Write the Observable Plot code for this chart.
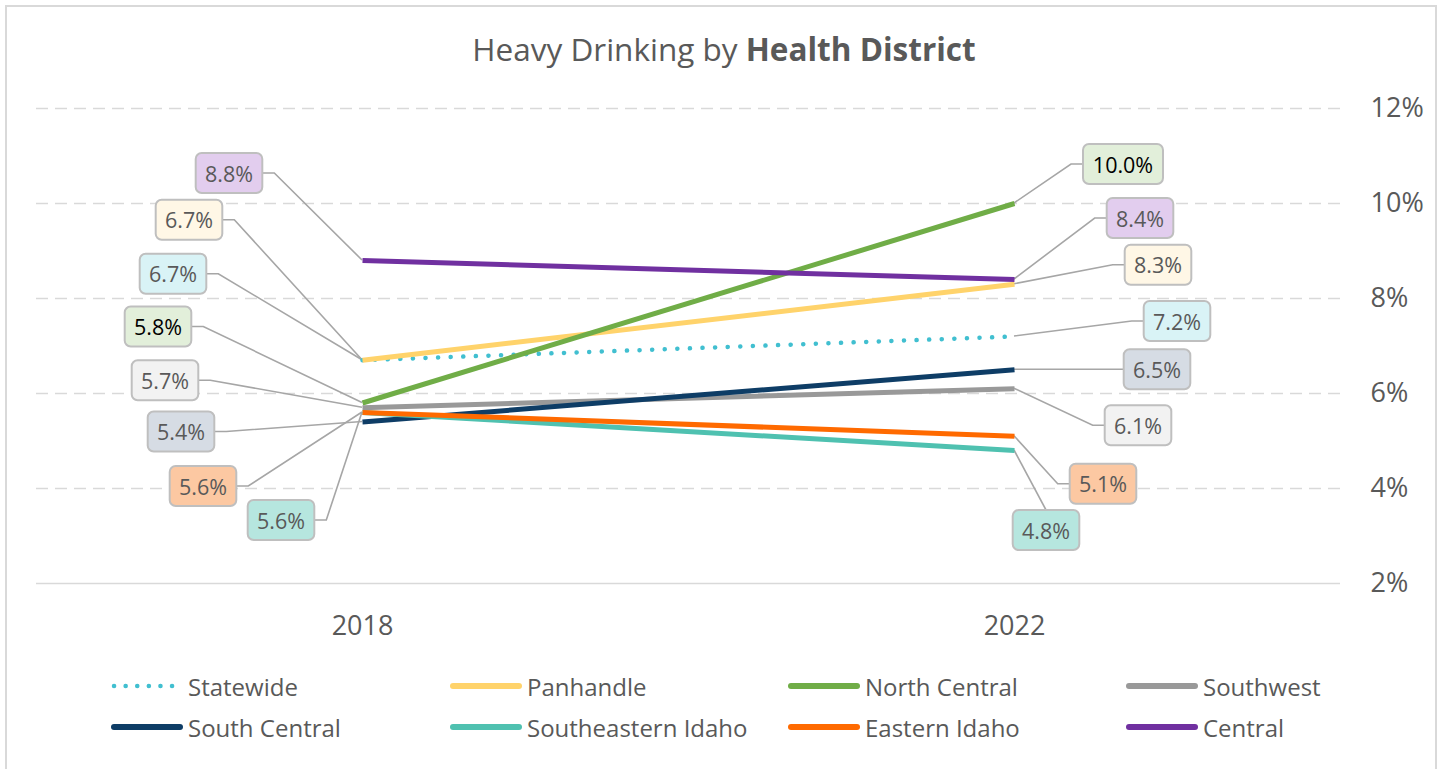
<!DOCTYPE html>
<html>
<head>
<meta charset="utf-8">
<script src="https://cdn.jsdelivr.net/npm/d3@7"></script>
<script src="https://cdn.jsdelivr.net/npm/@observablehq/plot@0.6"></script>
<style>
  html, body { margin: 0; padding: 0; background: #fff; }
  body { width: 1448px; height: 769px; position: relative; overflow: hidden; font-family: "Open Sans", "Noto Sans", sans-serif; color: #595959; }
  #frame { position: absolute; left: 5px; top: 5px; width: 1432px; height: 780px; border: 2px solid #d9d9d9; box-sizing: border-box; }
  #title { position: absolute; left: 0; top: 27px; width: 1448px; text-align: center; font-size: 31.5px; line-height: 44px; color: #595959; }
  #chart { position: absolute; left: 0; top: 0; }
  .leg { position: absolute; display: flex; align-items: center; font-size: 24px; color: #595959; white-space: nowrap; }
  .leg svg { margin-right: 5px; }
</style>
</head>
<body>
<div id="frame"></div>
<div id="title">Heavy Drinking by <b>Health District</b></div>
<div id="chart"></div>
<div id="legend"></div>
<script>
// ---- data ----
const years = ["2018", "2022"];
const districts = ["Statewide", "Panhandle", "North Central", "Southwest", "South Central", "Southeastern Idaho", "Eastern Idaho", "Central"];
const values2018 = [6.7, 6.7, 5.8, 5.7, 5.4, 5.6, 5.6, 8.8];
const values2022 = [7.2, 8.3, 10.0, 6.1, 6.5, 4.8, 5.1, 8.4];
const yTicks = [2, 4, 6, 8, 10, 12];

// ---- styles ----
const lineColors = ["#41bfd0", "#ffd36b", "#70ad47", "#999999", "#0e3d66", "#4fc1b0", "#ff6a00", "#7030a0"];
const boxFills = ["#d9f3f6", "#fff7e6", "#e2efda", "#f2f2f2", "#d6dce4", "#b6e6df", "#fcc8a2", "#e2cdee"];
const textColors = ["#595959", "#595959", "#000000", "#595959", "#595959", "#595959", "#595959", "#595959"];
// label box offsets (pixels from the data point), per district
const leftOffsets = [[-189, -86], [-173, -140], [-204, -76], [-197, -27], [-181, 10], [-81, 108], [-159, 74], [-133, -87]];
const rightOffsets = [[163, -15], [144, -19], [109, -39], [124, 37], [143, 0], [32, 80], [89, 48], [126, -61]];

const rows = [];
districts.forEach((d, i) => {
  rows.push({district: d, year: years[0], value: values2018[i], idx: i});
  rows.push({district: d, year: years[1], value: values2022[i], idx: i});
});
const labels = [];
districts.forEach((d, i) => {
  labels.push({district: d, year: years[0], value: values2018[i], idx: i, off: leftOffsets[i]});
  labels.push({district: d, year: years[1], value: values2022[i], idx: i, off: rightOffsets[i]});
});

const fmt = v => v.toFixed(1) + "%";

function labelMark(index, scales, values, dims) {
  const g = d3.create("svg:g");
  labels.forEach(l => {
    const px = scales.x(l.year), py = scales.y(l.value);
    const cx = px + l.off[0], cy = py + l.off[1];
    const txt = fmt(l.value);
    const w = txt.length * 13.4 + 13, h = 40;
    let pts;
    if (Math.abs(l.off[0]) < w / 2 + 6) {
      const ey = l.off[1] > 0 ? cy - h / 2 : cy + h / 2;
      pts = [[px, py], [cx, ey]];
    } else if (l.off[0] < 0) {
      const ex = cx + w / 2;
      pts = [[px, py], [ex + 12, cy], [ex, cy]];
    } else {
      const ex = cx - w / 2;
      pts = [[px, py], [ex - 12, cy], [ex, cy]];
    }
    g.append("path")
      .attr("d", d3.line()(pts))
      .attr("fill", "none")
      .attr("stroke", "#a6a6a6")
      .attr("stroke-width", 1.6);
    g.append("rect")
      .attr("x", cx - w / 2).attr("y", cy - h / 2)
      .attr("width", w).attr("height", h)
      .attr("rx", 6)
      .attr("fill", boxFills[l.idx])
      .attr("stroke", "#bfbfbf")
      .attr("stroke-width", 2);
    g.append("text")
      .attr("x", cx).attr("y", cy)
      .attr("text-anchor", "middle")
      .attr("dominant-baseline", "central")
      .attr("font-size", 21.5)
      .attr("font-family", "'Open Sans', 'Noto Sans', sans-serif")
      .attr("fill", textColors[l.idx])
      .text(txt);
  });
  return g.node();
}

const solidRows = rows.filter(r => r.district !== "Statewide");
const dotRows = rows.filter(r => r.district === "Statewide");

const chart = Plot.plot({
  width: 1448,
  height: 660,
  marginLeft: 36,
  marginRight: 108,
  marginTop: 108,
  marginBottom: 77,
  style: {background: "transparent", fontFamily: "'Open Sans', 'Noto Sans', sans-serif", color: "#595959"},
  x: {type: "point", domain: years, padding: 0.5, label: null},
  y: {domain: [2, 12], label: null},
  color: {domain: districts, range: lineColors},
  marks: [
    Plot.ruleY(yTicks.filter(t => t > 2), {stroke: "#d9d9d9", strokeWidth: 1.6, strokeDasharray: "12,7"}),
    Plot.ruleY([2], {stroke: "#d9d9d9", strokeWidth: 1.6}),
    Plot.axisY({anchor: "right", ticks: yTicks, tickSize: 0, tickPadding: 30, tickFormat: d => d + "%", fontSize: 27, textAnchor: "start", fill: "#595959", label: null}),
    Plot.axisX({tickSize: 0, tickPadding: 32, fontSize: 27, fill: "#595959", label: null}),
    labelMark,
    Plot.line(dotRows, {x: "year", y: "value", z: "district", stroke: "district", strokeWidth: 4.5, strokeDasharray: "0.1,12.5", strokeLinecap: "round"}),
    Plot.line(solidRows, {x: "year", y: "value", z: "district", stroke: "district", strokeWidth: 5, strokeLinecap: "butt"})
  ]
});
document.getElementById("chart").appendChild(chart);

// ---- legend ----
const legendCols = [111, 450, 788, 1126];
const legendRows = [686, 727];
const legend = document.getElementById("legend");
districts.forEach((d, i) => {
  const el = document.createElement("div");
  el.className = "leg";
  el.style.left = legendCols[i % 4] + "px";
  el.style.top = (legendRows[Math.floor(i / 4)] - 17) + "px";
  el.style.height = "34px";
  const dotted = d === "Statewide";
  el.innerHTML = `<svg width="72" height="12"><line x1="3" y1="6" x2="69" y2="6" stroke="${lineColors[i]}" stroke-width="${dotted ? 4.5 : 6}" stroke-linecap="round" ${dotted ? 'stroke-dasharray="0.1,11.5"' : ''}/></svg><span>${d}</span>`;
  legend.appendChild(el);
});
</script>
</body>
</html>
